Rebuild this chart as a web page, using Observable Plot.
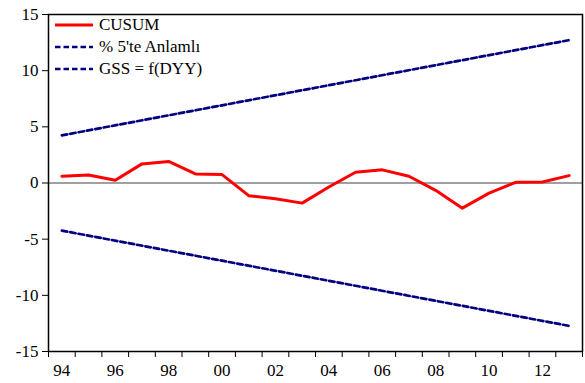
<!DOCTYPE html>
<html>
<head>
<meta charset="utf-8">
<script src="https://cdn.jsdelivr.net/npm/d3@7"></script>
<script src="https://cdn.jsdelivr.net/npm/@observablehq/plot@0.6"></script>
<style>
  body { margin: 0; background: #fff; }
  #chart { position: relative; width: 585px; height: 383px; font-family: "Liberation Serif", serif; }
  #chart svg text { font-family: "Liberation Serif", serif !important; font-variant-numeric: normal !important; }
  .legend { position: absolute; left: 55px; top: 14px; font-size: 17px; color: #000; font-family: "Liberation Serif", serif; }
  .legend .row { display: flex; align-items: center; height: 22px; }
  .legend svg { margin-right: 6px; }
</style>
</head>
<body>
<div id="chart"></div>
<script>
// CUSUM statistic by year
const years = [1994, 1995, 1996, 1997, 1998, 1999, 2000, 2001, 2002, 2003,
               2004, 2005, 2006, 2007, 2008, 2009, 2010, 2011, 2012, 2013];
const cusum = [0.60, 0.72, 0.24, 1.70, 1.92, 0.81, 0.75, -1.13, -1.40, -1.79,
               -0.36, 0.96, 1.17, 0.60, -0.65, -2.24, -0.90, 0.06, 0.09, 0.66];

// 5% significance bounds (straight lines between the first and last year)
const boundYears = [1994, 2013];
const upperBound = [4.24, 12.72];
const lowerBound = [-4.24, -12.72];

// Axis labels
const labelYears = [1994, 1996, 1998, 2000, 2002, 2004, 2006, 2008, 2010, 2012];
const tickLabels = ["94", "96", "98", "00", "02", "04", "06", "08", "10", "12"];
const yTicks = [-15, -10, -5, 0, 5, 10, 15];

// Legend entries
const seriesNames = ["CUSUM", "% 5'te Anlamlı", "GSS = f(DYY)"];
const seriesColors = ["#ff0000", "#000080", "#000080"];
const seriesDash = [null, "5.5,3", "5.5,3"];

const cusumRows = years.map((year, i) => ({year, value: cusum[i]}));
const upperRows = boundYears.map((year, i) => ({year, value: upperBound[i]}));
const lowerRows = boundYears.map((year, i) => ({year, value: lowerBound[i]}));

// Tick marks sit on the boundaries between years; labels sit mid-year
const yearEdges = d3.range(years[0] - 0.5, years[years.length - 1] + 1, 1);

const serif = "Liberation Serif";

const chart = Plot.plot({
  width: 585,
  height: 383,
  marginLeft: 48,
  marginRight: 3,
  marginTop: 14,
  marginBottom: 32,
  style: {fontFamily: serif, fontSize: "17px", color: "#000", background: "#fff"},
  x: {type: "linear", domain: [years[0] - 0.5, years[years.length - 1] + 0.5]},
  y: {domain: [-15, 15]},
  marks: [
    Plot.ruleY([0], {stroke: "#808080", strokeWidth: 1.5}),
    Plot.line(upperRows, {x: "year", y: "value", stroke: "#000080", strokeWidth: 2.7, strokeDasharray: "5.5,3"}),
    Plot.line(lowerRows, {x: "year", y: "value", stroke: "#000080", strokeWidth: 2.7, strokeDasharray: "5.5,3"}),
    Plot.line(cusumRows, {x: "year", y: "value", stroke: "#ff0000", strokeWidth: 3}),
    Plot.frame({stroke: "#000", strokeWidth: 1.5}),
    Plot.axisY({ticks: yTicks, tickSize: 6, tickPadding: 4, fontSize: 17, fontFamily: serif, label: null,
                tickFormat: d => String(d)}),
    Plot.axisX({ticks: yearEdges, tickSize: 6, tickFormat: () => "", label: null}),
    Plot.axisX({ticks: labelYears, tickSize: 0, tickPadding: 12, fontSize: 17, fontFamily: serif, label: null,
                tickFormat: d => tickLabels[labelYears.indexOf(d)]})
  ]
});

const container = document.getElementById("chart");
container.appendChild(chart);

// Legend drawn inside the plot frame, top-left
const legend = document.createElement("div");
legend.className = "legend";
seriesNames.forEach((name, i) => {
  const row = document.createElement("div");
  row.className = "row";
  const dash = seriesDash[i] ? ` stroke-dasharray="${seriesDash[i]}"` : "";
  const w = seriesDash[i] ? 2.7 : 3;
  row.innerHTML = `<svg width="38" height="22"><line x1="0" x2="38" y1="11" y2="11" stroke="${seriesColors[i]}" stroke-width="${w}"${dash}/></svg><span>${name}</span>`;
  legend.appendChild(row);
});
container.appendChild(legend);
</script>
</body>
</html>
